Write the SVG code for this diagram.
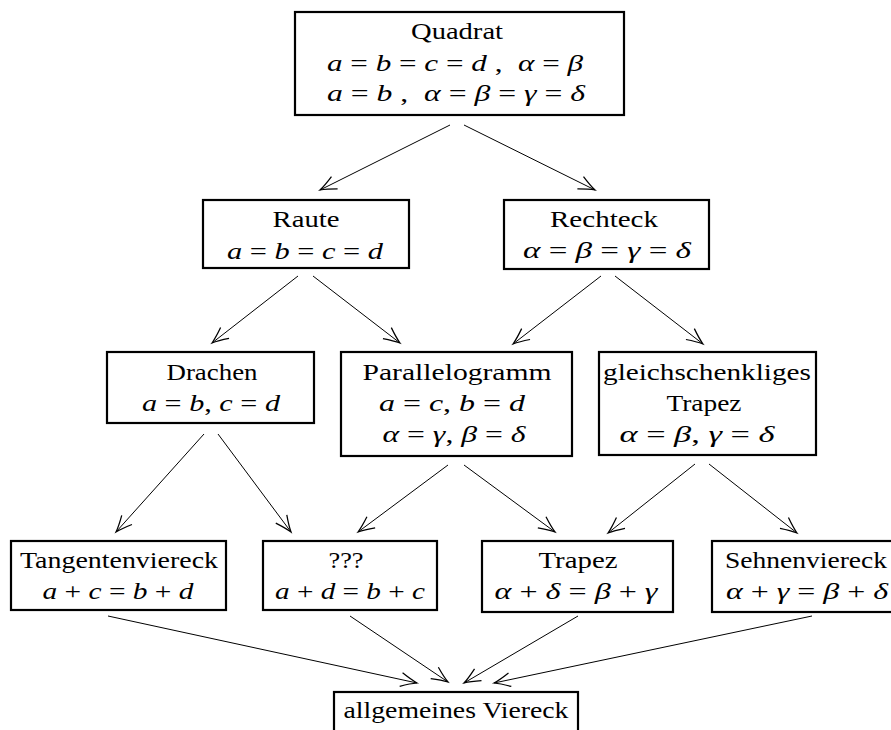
<svg xmlns="http://www.w3.org/2000/svg" width="891" height="730" viewBox="0 0 891 730">
<style>
.box{fill:#fff;stroke:#000;stroke-width:2.2}
.t{font-family:"Liberation Serif","Times New Roman",serif;font-size:24px;text-anchor:middle;fill:#000}
.i{font-style:italic}
.c line{stroke:#000;stroke-width:1;marker-end:url(#ah)}
</style>
<defs>
<marker id="ah" markerUnits="userSpaceOnUse" markerWidth="20" markerHeight="20" refX="0" refY="0" viewBox="-14 -8 16 16" orient="auto" overflow="visible">
<path d="M -13 -5.5 Q -5 -1.5 0 0 Q -5 1.5 -13 5.5" fill="none" stroke="#000" stroke-width="1"/>
</marker>
</defs>
<rect width="891" height="730" fill="#fff"/>
<g id="connectors" class="c">
<line x1="450" y1="125" x2="320" y2="190"/>
<line x1="464" y1="125" x2="595" y2="190"/>
<line x1="298" y1="276" x2="212" y2="343"/>
<line x1="313" y1="276" x2="400" y2="343"/>
<line x1="601" y1="276" x2="513" y2="344"/>
<line x1="615" y1="276" x2="703" y2="344"/>
<line x1="204" y1="434" x2="116" y2="532"/>
<line x1="218" y1="434" x2="291" y2="532"/>
<line x1="448" y1="465" x2="358" y2="532"/>
<line x1="464" y1="465" x2="555" y2="532"/>
<line x1="695" y1="464" x2="608" y2="533"/>
<line x1="709" y1="464" x2="797" y2="533"/>
<line x1="108" y1="616" x2="417" y2="683"/>
<line x1="350" y1="616" x2="448" y2="682"/>
<line x1="578" y1="616" x2="464" y2="683"/>
<line x1="812" y1="616" x2="494" y2="683"/>
</g>
<g id="quadrat">
<rect class="box" x="295" y="12" width="329" height="103"/>
<text class="t" x="457" y="39" textLength="92" lengthAdjust="spacingAndGlyphs">Quadrat</text>
<text class="t" x="455" y="71" textLength="256" lengthAdjust="spacingAndGlyphs"><tspan class="i">a</tspan> = <tspan class="i">b</tspan> = <tspan class="i">c</tspan> = <tspan class="i">d</tspan> ,&#160; <tspan class="i">α</tspan> = <tspan class="i">β</tspan></text>
<text class="t" x="456" y="101" textLength="258" lengthAdjust="spacingAndGlyphs"><tspan class="i">a</tspan> = <tspan class="i">b</tspan> ,&#160; <tspan class="i">α</tspan> = <tspan class="i">β</tspan> = <tspan class="i">γ</tspan> = <tspan class="i">δ</tspan></text>
</g>
<g id="raute">
<rect class="box" x="203" y="200" width="206" height="68"/>
<text class="t" x="306" y="227" textLength="67" lengthAdjust="spacingAndGlyphs">Raute</text>
<text class="t" x="305" y="259" textLength="156" lengthAdjust="spacingAndGlyphs"><tspan class="i">a</tspan> = <tspan class="i">b</tspan> = <tspan class="i">c</tspan> = <tspan class="i">d</tspan></text>
</g>
<g id="rechteck">
<rect class="box" x="504" y="200" width="205" height="69"/>
<text class="t" x="604" y="227" textLength="108" lengthAdjust="spacingAndGlyphs">Rechteck</text>
<text class="t" x="607" y="258" textLength="168" lengthAdjust="spacingAndGlyphs"><tspan class="i">α</tspan> = <tspan class="i">β</tspan> = <tspan class="i">γ</tspan> = <tspan class="i">δ</tspan></text>
</g>
<g id="drachen">
<rect class="box" x="107" y="352" width="207" height="71"/>
<text class="t" x="212" y="380" textLength="91" lengthAdjust="spacingAndGlyphs">Drachen</text>
<text class="t" x="211" y="411" textLength="138" lengthAdjust="spacingAndGlyphs"><tspan class="i">a</tspan> = <tspan class="i">b</tspan>, <tspan class="i">c</tspan> = <tspan class="i">d</tspan></text>
</g>
<g id="parallelogramm">
<rect class="box" x="341" y="352" width="231" height="104"/>
<text class="t" x="457" y="380" textLength="189" lengthAdjust="spacingAndGlyphs">Parallelogramm</text>
<text class="t" x="452" y="411" textLength="146" lengthAdjust="spacingAndGlyphs"><tspan class="i">a</tspan> = <tspan class="i">c</tspan>, <tspan class="i">b</tspan> = <tspan class="i">d</tspan></text>
<text class="t" x="454" y="442" textLength="143" lengthAdjust="spacingAndGlyphs"><tspan class="i">α</tspan> = <tspan class="i">γ</tspan>, <tspan class="i">β</tspan> = <tspan class="i">δ</tspan></text>
</g>
<g id="gleichschenkliges-trapez">
<rect class="box" x="599" y="352" width="217" height="103"/>
<text class="t" x="707" y="380" textLength="208" lengthAdjust="spacingAndGlyphs">gleichschenkliges</text>
<text class="t" x="704" y="411" textLength="75" lengthAdjust="spacingAndGlyphs">Trapez</text>
<text class="t" x="697" y="442" textLength="155" lengthAdjust="spacingAndGlyphs"><tspan class="i">α</tspan> = <tspan class="i">β</tspan>, <tspan class="i">γ</tspan> = <tspan class="i">δ</tspan></text>
</g>
<g id="tangentenviereck">
<rect class="box" x="11" y="541" width="215" height="69"/>
<text class="t" x="119" y="568" textLength="198" lengthAdjust="spacingAndGlyphs">Tangentenviereck</text>
<text class="t" x="118" y="599" textLength="151" lengthAdjust="spacingAndGlyphs"><tspan class="i">a</tspan> + <tspan class="i">c</tspan> = <tspan class="i">b</tspan> + <tspan class="i">d</tspan></text>
</g>
<g id="unbekannt">
<rect class="box" x="263" y="541" width="174" height="69"/>
<text class="t" x="346" y="568" textLength="35" lengthAdjust="spacingAndGlyphs">???</text>
<text class="t" x="350" y="599" textLength="150" lengthAdjust="spacingAndGlyphs"><tspan class="i">a</tspan> + <tspan class="i">d</tspan> = <tspan class="i">b</tspan> + <tspan class="i">c</tspan></text>
</g>
<g id="trapez">
<rect class="box" x="482" y="541" width="191" height="71"/>
<text class="t" x="578" y="568" textLength="79" lengthAdjust="spacingAndGlyphs">Trapez</text>
<text class="t" x="576" y="599" textLength="163" lengthAdjust="spacingAndGlyphs"><tspan class="i">α</tspan> + <tspan class="i">δ</tspan> = <tspan class="i">β</tspan> + <tspan class="i">γ</tspan></text>
</g>
<g id="sehnenviereck">
<rect class="box" x="712" y="541" width="200" height="71"/>
<text class="t" x="806" y="568" textLength="162" lengthAdjust="spacingAndGlyphs">Sehnenviereck</text>
<text class="t" x="807" y="599" textLength="162" lengthAdjust="spacingAndGlyphs"><tspan class="i">α</tspan> + <tspan class="i">γ</tspan> = <tspan class="i">β</tspan> + <tspan class="i">δ</tspan></text>
</g>
<g id="allgemeines-viereck">
<rect class="box" x="334" y="692" width="244" height="60"/>
<text class="t" x="456" y="718" textLength="225" lengthAdjust="spacingAndGlyphs">allgemeines Viereck</text>
</g>
</svg>
